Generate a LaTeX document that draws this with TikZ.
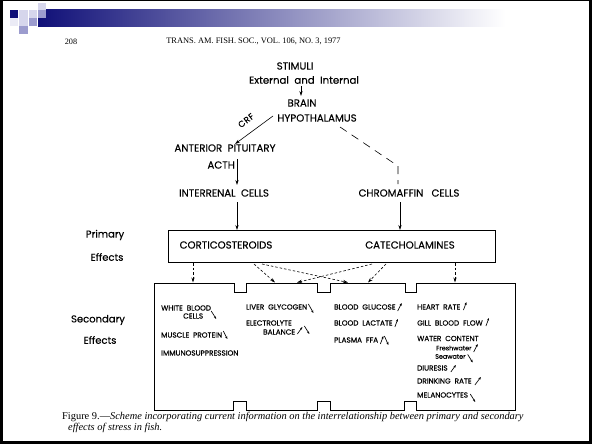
\documentclass[tikz,border=0pt]{standalone}
\usepackage{fontspec}
\setmainfont{Liberation Serif}
\setsansfont{Poppins}[FakeBold=0.3]
\usetikzlibrary{arrows.meta,calc}
\definecolor{navyA}{RGB}{16,16,120}
\definecolor{lavL}{RGB}{214,214,236}
\definecolor{lavM}{RGB}{156,156,206}
\begin{document}
\begin{tikzpicture}[x=1pt,y=-1pt,
  lbl/.style={font=\sffamily\fontsize{10.2}{11}\selectfont, inner sep=0pt},
  side/.style={font=\sffamily\fontsize{10}{11}\selectfont, inner sep=0pt},
  sec/.style={font=\sffamily\fontsize{7.3}{8}\selectfont, inner sep=0pt, anchor=west},
  secs/.style={font=\sffamily\fontsize{6.4}{7}\selectfont, inner sep=0pt, anchor=west},
  arr/.style={-{Stealth[length=5pt,width=3.2pt]}, line width=0.6pt},
  darr/.style={-{Stealth[length=5pt,width=3.2pt]}, line width=0.6pt, dash pattern=on 2.5pt off 2pt},
  sarr/.style={-{Stealth[length=2.8pt,width=2.2pt]}, line width=0.65pt},
  box/.style={draw, line width=0.8pt, inner sep=0pt}
]
\useasboundingbox (0,0) rectangle (592,444);
\fill[white] (0,0) rectangle (592,444);
% header decoration
\shade[left color=navyA, right color=white] (38,10) rectangle (505,27);
\fill[navyA] (10,10) rectangle (18,18);
\fill[lavL] (19,10) rectangle (28,18);
\fill[lavL] (38,3) rectangle (46,10);
\fill[lavL] (29,10) rectangle (37,18);
\fill[lavM] (38,10) rectangle (46,18);
\fill[lavL!50!white] (10,18) rectangle (18,26);
\fill[lavL] (19,18) rectangle (28,26);
\fill[lavM] (29,18) rectangle (37,26);
\fill[lavM] (19,26) rectangle (28,34);
% frame
\draw[line width=1pt] (0,0.5) -- (592,0.5);
\draw[line width=2.5pt] (1.25,0) -- (1.25,444);
\draw[line width=3pt] (590.5,0) -- (590.5,444);
\draw[line width=3pt] (0,442.5) -- (592,442.5);
% header text
\node[font=\fontsize{8.2}{9}\selectfont, inner sep=0pt] (pg) at (71,41.5) {208};
\node[font=\fontsize{8.4}{9}\selectfont, inner sep=0pt] (jr) at (253.5,41.5) {TRANS. AM. FISH. SOC., VOL. 106, NO. 3, 1977};
% diagram
\node[lbl] (stim) at (295,66) {STIMULI};
\node[lbl] (ext) at (304,80) {External\ \ and\ \ Internal};
\node[lbl] (brain) at (302,103) {BRAIN};
\node[lbl] (hyp) at (317,118) {HYPOTHALAMUS};
\node[lbl] (ant) at (225,148) {ANTERIOR\ \ PITUITARY};
\node[lbl, anchor=east] (acth) at (235,165) {ACTH};
\node[lbl] (inter) at (224,193) {INTERRENAL\ \ CELLS};
\node[lbl] (chrom) at (409,193) {CHROMAFFIN\ \ \ CELLS};
\node[inner sep=0pt, rotate=38, font=\sffamily\fontsize{8.6}{9}\selectfont] (crf) at (246,120.5) {C\kern0.6pt R\kern0.6pt F};

\coordinate (e1) at (301,86);
\coordinate (e2) at (301,96);
\draw[arr] (e1) -- (e2);
\coordinate (h1) at (273,116);
\coordinate (a1) at (235,144);
\draw[arr] (h1) -- (a1);
\coordinate (a2) at (237,159);
\coordinate (am) at (237,172);
\coordinate (i1) at (237,185);
\draw[line width=0.6pt] (a2) -- (am);
\draw[arr] (am) -- (i1);
\coordinate (hd) at (340,127);
\coordinate (bend) at (398,166);
\coordinate (ch) at (398,184);
\draw[line width=0.6pt, dash pattern=on 8pt off 6pt] (hd) -- (bend) -- (ch);

% primary box
\node[box, minimum width=327pt, minimum height=32pt] (prim) at (331.5,246) {};
\node[lbl] (cort) at (226,245) {CORTICOSTEROIDS};
\node[lbl] (cate) at (410,245) {CATECHOLAMINES};
\coordinate (i2) at (237,202);
\coordinate (p1) at (237,230);
\draw[arr] (i2) -- (p1);
\coordinate (c2) at (400,202);
\coordinate (p2) at (400,230);
\draw[arr] (c2) -- (p2);

\node[side] (prl) at (105,235) {Primary};
\node[side] (pre) at (107,257) {Effects};
\node[side] (scl) at (98,320) {Secondary};
\node[side] (sce) at (100,340) {Effects};

% secondary box
\node[minimum width=361pt, minimum height=127pt, inner sep=0pt] (secb) at (334.5,346.5) {};
\draw[line width=0.8pt] (154,283) -- (234,283) -- (234,292) -- (246,292) -- (246,283)
  -- (317,283) -- (317,292) -- (330,292) -- (330,283) -- (405,283) -- (405,292)
  -- (416,292) -- (416,283) -- (515,283) -- (515,410) -- (416,410) -- (416,401)
  -- (404,401) -- (404,410) -- (330,410) -- (330,401) -- (317,401) -- (317,410)
  -- (246,410) -- (246,401) -- (233,401) -- (233,410) -- (154,410) -- cycle;

% dashed arrows primary -> secondary
\coordinate (d1a) at (193,263); \coordinate (d1b) at (193,282.5);
\coordinate (d2a) at (254,264); \coordinate (d2b) at (275,282.5);
\coordinate (d3a) at (262,264); \coordinate (d3b) at (348,282.5);
\coordinate (d4a) at (372,264); \coordinate (d4b) at (297,282.5);
\coordinate (d5a) at (386,264); \coordinate (d5b) at (368,282.5);
\coordinate (d6a) at (455,263); \coordinate (d6b) at (455,282.5);
\foreach \s/\t in {d1a/d1b,d2a/d2b,d3a/d3b,d4a/d4b,d5a/d5b,d6a/d6b}
  \draw[darr] (\s) -- (\t);

% secondary texts
\node[sec] (wb) at (161,308) {WHITE\ \ BLOOD};
\node[sec] (wc) at (183,316) {CELLS};
\node[sec] (mp) at (161,335) {MUSCLE\ \ PROTEIN};
\node[sec] (im) at (161,353) {IMMUNOSUPPRESSION};
\node[sec] (lg) at (246,307) {LIVER\ \ GLYCOGEN};
\node[sec] (el) at (246,323) {ELECTROLYTE};
\node[sec] (ba) at (263,332) {BALANCE};
\node[sec] (bg) at (334,307) {BLOOD\ \ GLUCOSE};
\node[sec] (bl) at (334,323) {BLOOD\ \ LACTATE};
\node[sec] (pf) at (334,340) {PLASMA\ \ FFA};
\node[sec] (hr) at (417,307) {HEART\ \ RATE};
\node[sec] (gb) at (417,323) {GILL\ \ BLOOD\ \ FLOW};
\node[sec] (wt) at (417,338.5) {WATER\ \ CONTENT};
\node[secs] (fw) at (436,348) {Freshwater};
\node[secs] (sw) at (435,356.5) {Seawater};
\node[sec] (di) at (417,368) {DIURESIS};
\node[sec] (dr) at (417,381) {DRINKING\ \ RATE};
\node[sec] (me) at (417,395) {MELANOCYTES};

% small up / down marks, placed after each text
\draw[sarr] ($(wb.east)+(0,3)$) -- ++(5,8);
\draw[sarr] ($(mp.east)+(1,-4)$) -- ++(4,8);
\draw[sarr] ($(lg.east)+(1,-3)$) -- ++(5,9);
\draw[sarr] ($(ba.east)+(2,2)$) -- ++(5,-7);
\draw[sarr] ($(ba.east)+(9,-6)$) -- ++(5,8);
\draw[sarr] ($(bg.east)+(2,4)$) -- ++(4,-8);
\draw[sarr] ($(bl.east)+(2,4)$) -- ++(3,-8);
\draw[sarr] ($(pf.east)+(2,4)$) -- ++(3,-8);
\draw[sarr] ($(pf.east)+(6,-4)$) -- ++(4,9);
\draw[sarr] ($(hr.east)+(3,3)$) -- ++(3,-8);
\draw[sarr] ($(gb.east)+(3,3)$) -- ++(3,-8);
\draw[sarr] ($(fw.east)+(2,4)$) -- ++(4,-8);
\draw[sarr] ($(sw.east)+(2,-2)$) -- ++(5,8);
\draw[sarr] ($(di.east)+(3,4)$) -- ++(5,-7);
\draw[sarr] ($(dr.east)+(3,4)$) -- ++(6,-8);
\draw[sarr] ($(me.east)+(2,-1)$) -- ++(5,8);

% caption
\node[anchor=west, inner sep=0pt, font=\fontsize{10.4}{11}\selectfont] (cap1) at (62,417)
  {\textsc{Figure} 9.---\textit{Scheme incorporating current information on the interrelationship between primary and secondary}};
\node[anchor=west, inner sep=0pt, font=\fontsize{10.4}{11}\selectfont] (cap2) at (68,428)
  {\textit{effects of stress in fish.}};
\end{tikzpicture}
\end{document}
